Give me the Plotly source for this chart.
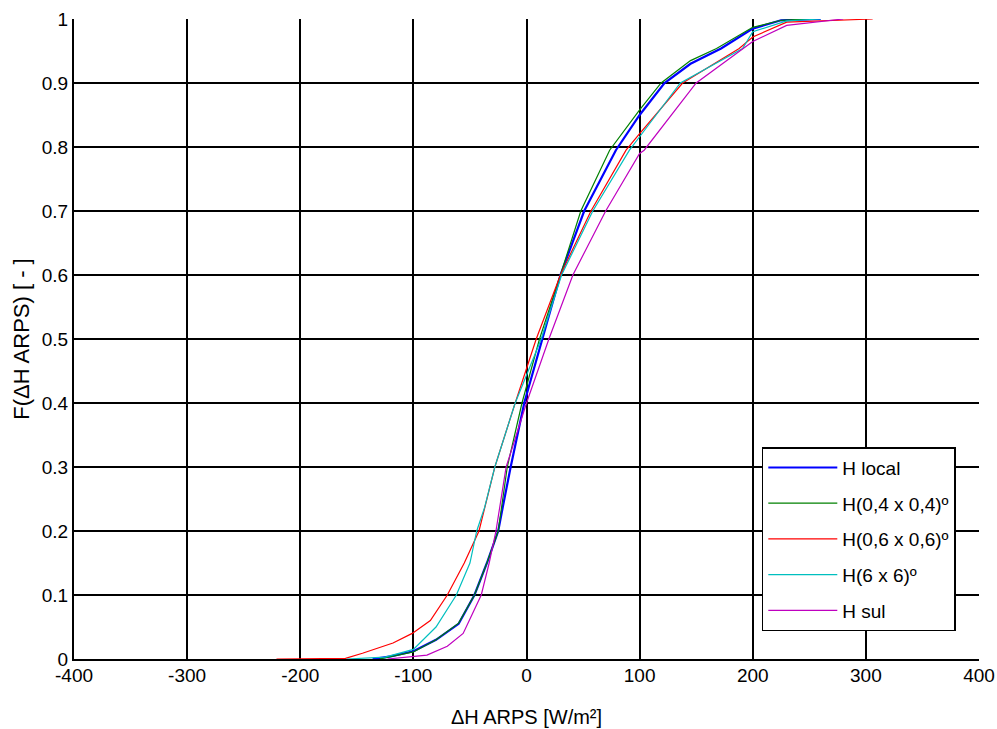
import plotly.graph_objects as go

# ---- data (x = ΔH ARPS [W/m²], F = cumulative fraction) ----
local_x = [-136, -120, -100, -80, -60, -46, -35, -25, -21, -14, -2, 14, 30, 51, 79, 100, 122, 145, 172, 200, 225, 260]
local_f = [0, 0.004, 0.012, 0.03, 0.055, 0.1, 0.15, 0.2, 0.237, 0.3, 0.4, 0.5, 0.6, 0.7, 0.795, 0.85, 0.9, 0.93, 0.954, 0.985, 0.998, 1.0]

h04_x = [-130, -100, -80, -60, -46, -35, -25, -17, -4, 11.5, 30, 48, 73.5, 100, 119, 145, 168, 200, 225, 250]
h04_f = [0, 0.011, 0.03, 0.056, 0.1, 0.15, 0.2, 0.3, 0.4, 0.5, 0.6, 0.7, 0.795, 0.858, 0.9, 0.935, 0.954, 0.987, 0.998, 1.0]

h06_x = [-221, -160, -145, -118, -101, -85, -70, -55, -42, -37, -28, -10, 8.6, 30, 57, 88, 100, 138, 188, 200, 230, 306]
h06_f = [0, 0.001, 0.009, 0.025, 0.04, 0.06, 0.1, 0.15, 0.2, 0.237, 0.3, 0.4, 0.5, 0.6, 0.7, 0.795, 0.821, 0.9, 0.954, 0.972, 0.995, 1.0]

h6_x = [-159, -125, -100, -80, -62, -50, -44, -37, -28, -10, 13, 31, 58.6, 91, 100, 136, 191, 200, 230, 260]
h6_f = [0, 0.003, 0.015, 0.05, 0.1, 0.15, 0.2, 0.237, 0.3, 0.4, 0.5, 0.6, 0.7, 0.795, 0.816, 0.9, 0.954, 0.98, 0.997, 1.0]

sul_x = [-123, -88, -70, -56, -48, -40, -33, -27, -18, 0, 19.8, 41, 70, 100, 104, 150, 200, 230, 280]
sul_f = [0, 0.006, 0.02, 0.04, 0.07, 0.1, 0.15, 0.2, 0.3, 0.4, 0.5, 0.6, 0.7, 0.79, 0.795, 0.9, 0.965, 0.99, 1.0]

series_names = ["H local", "H(0,4 x 0,4)º", "H(0,6 x 0,6)º", "H(6 x 6)º", "H sul"]
x_ticks = [-400, -300, -200, -100, 0, 100, 200, 300, 400]
x_ticktext = ["-400", "-300", "-200", "-100", "0", "100", "200", "300", "400"]
y_ticks = [0, 0.1, 0.2, 0.3, 0.4, 0.5, 0.6, 0.7, 0.8, 0.9, 1]
y_ticktext = ["0", "0.1", "0.2", "0.3", "0.4", "0.5", "0.6", "0.7", "0.8", "0.9", "1"]

FONT = "Liberation Sans, Arial, sans-serif"

series = [
    (local_x, local_f, "#0000FF", 2.2),
    (h04_x, h04_f, "#008000", 1.2),
    (h06_x, h06_f, "#FF0000", 1.2),
    (h6_x, h6_f, "#00BFBF", 1.2),
    (sul_x, sul_f, "#BF00BF", 1.2),
]

fig = go.Figure()
for i, ((xs, fs, col, w), name) in enumerate(zip(series, series_names)):
    fig.add_trace(go.Scatter(x=xs, y=fs, mode="lines", name=name,
                             line=dict(color=col, width=w),
                             legendgroup=f"g{i}"))

fig.update_layout(
    width=997, height=729, autosize=False,
    margin=dict(l=74, r=18, t=19, b=70, autoexpand=False),
    paper_bgcolor="white", plot_bgcolor="white",
    font=dict(family=FONT, size=20, color="black"),
    legend=dict(x=0.760, y=0.331, xanchor="left", yanchor="top",
                bordercolor="black", borderwidth=1.5, bgcolor="white",
                font=dict(family=FONT, size=19, color="black"),
                tracegroupgap=8, itemwidth=69),
    xaxis=dict(range=[-400, 400], tickvals=x_ticks, ticktext=x_ticktext, showgrid=True,
               gridcolor="black", gridwidth=1.6, zeroline=False, automargin=False,
               showline=True, linecolor="black", linewidth=2,
               ticks="", ticklabelstandoff=-2,
               title=dict(text="ΔH ARPS [W/m²]", standoff=25,
                          font=dict(family=FONT, size=20)),
               tickfont=dict(family=FONT, size=19)),
    yaxis=dict(range=[0, 1], tickvals=y_ticks, ticktext=y_ticktext, showgrid=True,
               gridcolor="black", gridwidth=1.6, zeroline=False, automargin=False,
               showline=True, linecolor="black", linewidth=2,
               ticks="", title=dict(text="F(ΔH ARPS) [ - ]", standoff=6,
                                    font=dict(family=FONT, size=22)),
               tickfont=dict(family=FONT, size=19)),
)

fig.write_html("out.html", config={"displayModeBar": False, "responsive": False},
               post_script="document.body.style.margin='0';document.body.style.padding='0';document.body.style.overflow='hidden';")
